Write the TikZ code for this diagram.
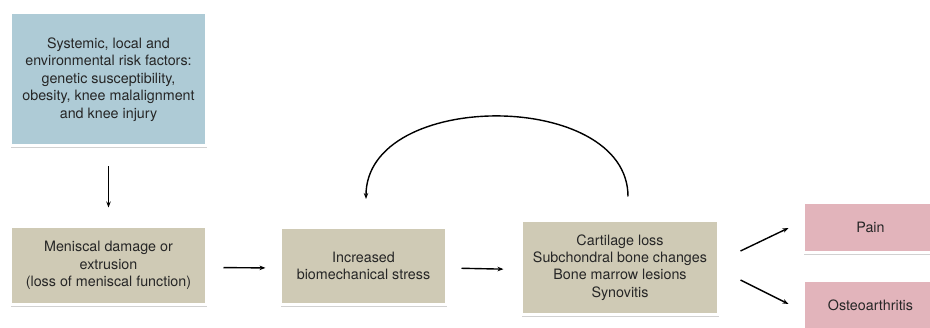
\documentclass[tikz,border=0pt]{standalone}
\usepackage{fontspec}
\setmainfont{TeX Gyre Heros}
\usetikzlibrary{calc,shadows,arrows.meta}
\definecolor{boxblue}{HTML}{AECBD6}
\definecolor{boxbeige}{HTML}{CFCAB5}
\definecolor{boxpink}{HTML}{E2B4BB}
\definecolor{txt}{HTML}{262626}
\tikzset{
  card/.style={draw=white, line width=3pt, align=center, text=txt,
    font=\fontsize{14.3}{17.4}\selectfont, inner sep=0pt,
    drop shadow={shadow xshift=0.6pt, shadow yshift=-2.2pt, opacity=0.3, fill=black!60}},
  conn/.style={draw=black, line width=1.4pt, -{Stealth[length=6pt,width=4.5pt]}}
}
\begin{document}
\begin{tikzpicture}[x=1pt,y=-1pt]
\useasboundingbox (0,0) rectangle (930,328);
\clip (0,0) rectangle (930,328);
\node[card, fill=boxblue, minimum width=196pt, minimum height=133pt] (R) at (108.5,79.5)
  {Systemic, local and\\environmental risk factors:\\genetic susceptibility,\\obesity, knee malalignment\\and knee injury};
\node[card, fill=boxbeige, minimum width=196pt, minimum height=78pt] (M) at (108.5,265.5)
  {Meniscal damage or\\extrusion\\(loss of meniscal function)};
\node[card, fill=boxbeige, minimum width=166pt, minimum height=77pt] (I) at (363.5,266)
  {Increased\\biomechanical stress};
\node[card, fill=boxbeige, minimum width=197pt, minimum height=94pt] (C) at (620,267.5)
  {Cartilage loss\\Subchondral bone changes\\Bone marrow lesions\\Synovitis};
\node[card, fill=boxpink, minimum width=134pt, minimum height=50pt, text width=120pt] (P) at (870.5,227.5) {Pain};
\node[card, fill=boxpink, minimum width=134pt, minimum height=50pt, text width=120pt] (O) at (870.5,305.5) {Osteoarthritis};
\draw[conn, shorten <=19pt, shorten >=17.5pt] (R.south) -- (M.north);
\draw[conn, shorten <=15.5pt, shorten >=13.5pt] ([yshift=-2pt]M.east) -- ([yshift=-2pt]I.west);
\draw[conn, shorten <=13.5pt, shorten >=16.5pt] ([yshift=-2pt]I.east) -- ([yshift=-2pt]C.west);
\coordinate (cs) at ($(C.north)+(8,-22.5)$);
\coordinate (ce) at ($(I.north)+(2.5,-27)$);
\draw[conn] (cs) .. controls ($(cs)+(0,-107)$) and ($(ce)+(0,-110)$) .. (ce);
\draw[conn] ($(C.east)+(20.5,-16.5)$) -- ($(P.west)+(-13.5,0.5)$);
\draw[conn] ($(C.east)+(20.5,12.5)$) -- ($(O.west)+(-13.5,-1.5)$);
\end{tikzpicture}
\end{document}
